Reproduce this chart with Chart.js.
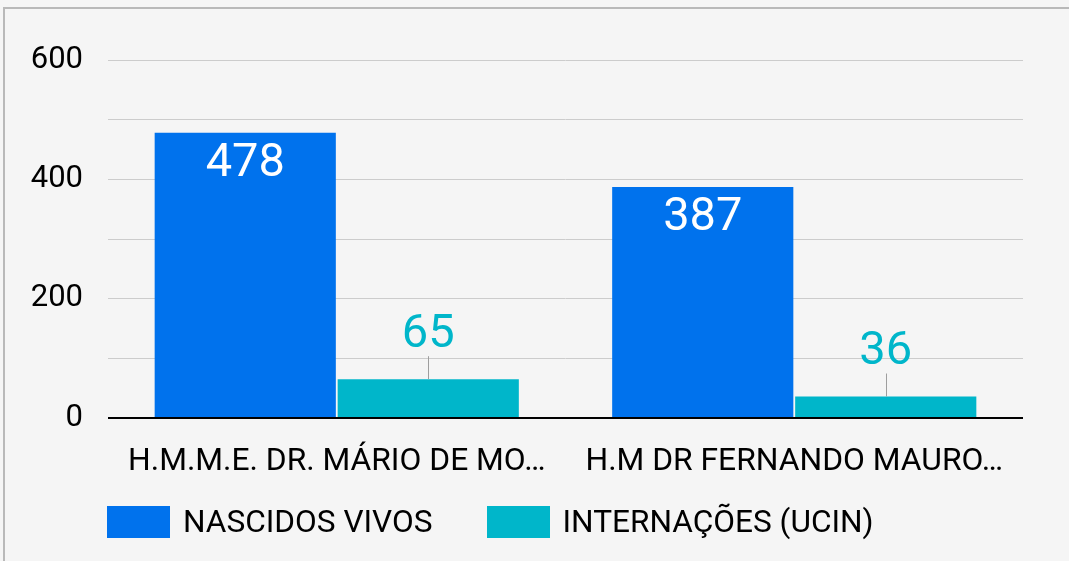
<!DOCTYPE html>
<html>
<head>
<meta charset="utf-8">
<script src="https://cdn.jsdelivr.net/npm/chart.js@4/dist/chart.umd.min.js"></script>
<style>
    html, body { margin: 0; padding: 0; background: #f5f5f5; overflow: hidden; }
    #wrap { position: relative; width: 1069px; height: 561px; }
    #frame { position: absolute; left: 3px; top: 7px; width: 1100px; height: 600px;
             border-top: 2px solid #b9b9b9; border-left: 2px solid #b9b9b9; }
    #chart { position: absolute; left: 0; top: 0; }
    #legend { position: absolute; left: 107px; top: 503px; display: flex; align-items: center;
              font-family: Roboto, sans-serif; font-size: 31.6px; color: #000; }
    .item { display: flex; align-items: center; margin-right: 54px; }
    .box { width: 63px; height: 32px; margin-right: 13px; }
</style>
</head>
<body>
<div id="wrap">
    <div id="frame"></div>
    <canvas id="chart" width="1069" height="561"></canvas>
    <div id="legend"></div>
</div>
<script>
const categories = ['H.M.M.E. DR. MÁRIO DE MO…', 'H.M DR FERNANDO MAURO…'];
const seriesNames = ['NASCIDOS VIVOS', 'INTERNAÇÕES (UCIN)'];
const nascidosVivos = [478, 387];
const internacoes = [65, 36];
const yTicks = [0, 200, 400, 600];
const colors = ['#0072ed', '#00b6ca'];

// rótulos de dados (sem o plugin datalabels, que não está disponível)
const valueLabels = {
    id: 'valueLabels',
    afterDatasetsDraw(chart) {
        const ctx = chart.ctx;
        ctx.save();
        ctx.font = '47px Roboto, sans-serif';
        ctx.textAlign = 'center';
        ctx.textBaseline = 'middle';
        chart.data.datasets.forEach((ds, i) => {
            const meta = chart.getDatasetMeta(i);
            meta.data.forEach((bar, j) => {
                const v = ds.data[j];
                if (i === 0) {
                    ctx.fillStyle = '#ffffff';
                    ctx.fillText(String(v), bar.x, bar.y + 31);
                } else {
                    ctx.strokeStyle = '#9e9e9e';
                    ctx.lineWidth = 1;
                    ctx.beginPath();
                    ctx.moveTo(Math.round(bar.x) + 0.5, bar.y);
                    ctx.lineTo(Math.round(bar.x) + 0.5, bar.y - 23);
                    ctx.stroke();
                    ctx.fillStyle = colors[1];
                    ctx.fillText(String(v), bar.x, bar.y - 44);
                }
            });
        });
        ctx.restore();
    }
};

const ctx = document.getElementById('chart').getContext('2d');
new Chart(ctx, {
    type: 'bar',
    data: {
        labels: categories,
        datasets: [
            {
                label: seriesNames[0],
                data: nascidosVivos,
                backgroundColor: colors[0],
                categoryPercentage: 0.8,
                barPercentage: 0.99
            },
            {
                label: seriesNames[1],
                data: internacoes,
                backgroundColor: colors[1],
                categoryPercentage: 0.8,
                barPercentage: 0.99
            }
        ]
    },
    options: {
        responsive: false,
        animation: false,
        layout: { padding: { left: 0, top: 60, right: 46, bottom: 0 } },
        plugins: {
            legend: { display: false },
            tooltip: { enabled: false }
        },
        scales: {
            x: {
                grid: { display: false },
                border: { display: false },
                ticks: {
                    color: '#000',
                    font: { family: 'Roboto', size: 31.8 },
                    padding: 17,
                    maxRotation: 0,
                    autoSkip: false
                },
                afterFit(scale) { scale.height = 143; }
            },
            y: {
                min: 0,
                max: 600,
                border: { display: false },
                grid: {
                    drawTicks: false,
                    color: c => c.tick && c.tick.value === 0 ? '#000' : '#cccccc',
                    lineWidth: c => c.tick && c.tick.value === 0 ? 2 : 1
                },
                ticks: {
                    stepSize: 100,
                    color: '#000',
                    font: { family: 'Roboto', size: 31 },
                    padding: 25,
                    callback: v => yTicks.includes(v) ? String(v) : ''
                },
                afterFit(scale) { scale.width = 108; }
            }
        }
    },
    plugins: [valueLabels]
});

const legend = document.getElementById('legend');
seriesNames.forEach((name, i) => {
    const item = document.createElement('div');
    item.className = 'item';
    const box = document.createElement('div');
    box.className = 'box';
    box.style.background = colors[i];
    const txt = document.createElement('span');
    txt.textContent = name;
    item.appendChild(box);
    item.appendChild(txt);
    legend.appendChild(item);
});
</script>
</body>
</html>
